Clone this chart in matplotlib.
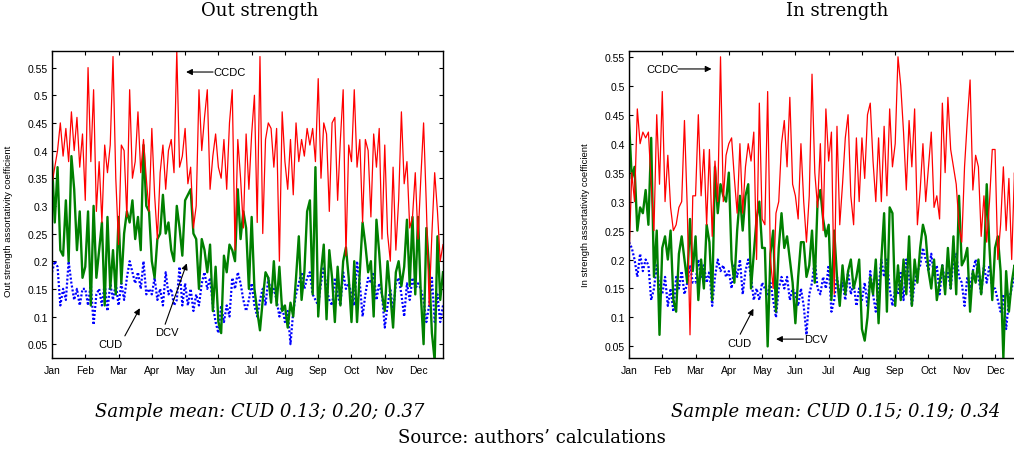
import numpy as np
import matplotlib
matplotlib.use('Agg')
import matplotlib.pyplot as plt
from matplotlib.ticker import FuncFormatter

plt.rcParams['font.family'] = ['Liberation Sans', 'DejaVu Sans']

months = ['Jan', 'Feb', 'Mar', 'Apr', 'May', 'Jun',
          'Jul', 'Aug', 'Sep', 'Oct', 'Nov', 'Dec']
ytick_vals = [0.05, 0.1, 0.15, 0.2, 0.25, 0.3, 0.35, 0.4, 0.45, 0.5, 0.55]

# 12 samples per month (Dec partial)
# ---- Out strength ----
out_ccdc = [
    0.34, 0.37, 0.40, 0.45, 0.39, 0.44, 0.38, 0.47, 0.40, 0.46, 0.37, 0.43,  # Jan
    0.31, 0.55, 0.38, 0.51, 0.29, 0.38, 0.27, 0.41, 0.36, 0.41, 0.57, 0.35,  # Feb
    0.23, 0.41, 0.40, 0.28, 0.51, 0.35, 0.38, 0.47, 0.36, 0.42, 0.35, 0.29,  # Mar
    0.44, 0.32, 0.24, 0.36, 0.41, 0.33, 0.40, 0.42, 0.36, 0.58, 0.37, 0.39,  # Apr
    0.44, 0.34, 0.37, 0.26, 0.30, 0.51, 0.40, 0.46, 0.51, 0.33, 0.39, 0.43,  # May
    0.37, 0.35, 0.42, 0.33, 0.45, 0.51, 0.22, 0.42, 0.35, 0.26, 0.43, 0.33,  # Jun
    0.43, 0.50, 0.27, 0.57, 0.25, 0.42, 0.45, 0.44, 0.37, 0.44, 0.20, 0.47,  # Jul
    0.38, 0.33, 0.42, 0.32, 0.45, 0.38, 0.42, 0.39, 0.44, 0.41, 0.44, 0.38,  # Aug
    0.53, 0.35, 0.45, 0.43, 0.29, 0.45, 0.46, 0.31, 0.42, 0.51, 0.21, 0.41,  # Sep
    0.38, 0.51, 0.37, 0.42, 0.27, 0.42, 0.40, 0.28, 0.43, 0.37, 0.44, 0.24,  # Oct
    0.41, 0.25, 0.20, 0.37, 0.22, 0.31, 0.47, 0.34, 0.38, 0.26, 0.28, 0.36,  # Nov
    0.24, 0.35, 0.45, 0.30, 0.12, 0.25, 0.36, 0.29, 0.20, 0.23,              # Dec
]
out_dcv = [
    0.38, 0.27, 0.37, 0.22, 0.21, 0.31, 0.20, 0.39, 0.33, 0.22, 0.29, 0.17,
    0.19, 0.29, 0.12, 0.30, 0.17, 0.22, 0.27, 0.12, 0.28, 0.15, 0.22, 0.14,
    0.28, 0.16, 0.25, 0.29, 0.27, 0.31, 0.24, 0.28, 0.22, 0.41, 0.30, 0.29,
    0.20, 0.17, 0.24, 0.25, 0.32, 0.25, 0.27, 0.22, 0.20, 0.30, 0.26, 0.21,
    0.31, 0.32, 0.33, 0.25, 0.24, 0.15, 0.24, 0.22, 0.18, 0.23, 0.11, 0.19,
    0.09, 0.07, 0.21, 0.18, 0.23, 0.22, 0.20, 0.33, 0.24, 0.29, 0.26, 0.15,
    0.28, 0.15, 0.11, 0.075, 0.13, 0.18, 0.17, 0.125, 0.20, 0.12, 0.19, 0.11,
    0.12, 0.08, 0.125, 0.10, 0.17, 0.245, 0.13, 0.18, 0.29, 0.31, 0.14, 0.37,
    0.10, 0.18, 0.23, 0.095, 0.22, 0.17, 0.09, 0.19, 0.12, 0.20, 0.225, 0.17,
    0.09, 0.20, 0.09, 0.18, 0.27, 0.23, 0.18, 0.20, 0.10, 0.275, 0.215, 0.14,
    0.11, 0.20, 0.14, 0.08, 0.18, 0.20, 0.155, 0.19, 0.275, 0.155, 0.28, 0.14,
    0.28, 0.14, 0.05, 0.26, 0.185, 0.07, 0.02, 0.245, 0.13, 0.18,
]
out_cud = [
    0.18, 0.20, 0.19, 0.12, 0.15, 0.13, 0.20, 0.16, 0.13, 0.15, 0.12, 0.15,
    0.15, 0.12, 0.16, 0.085, 0.14, 0.15, 0.12, 0.16, 0.11, 0.16, 0.13, 0.16,
    0.12, 0.16, 0.13, 0.17, 0.20, 0.18, 0.16, 0.18, 0.15, 0.20, 0.14, 0.15,
    0.14, 0.17, 0.13, 0.15, 0.12, 0.18, 0.14, 0.15, 0.12, 0.13, 0.19, 0.12,
    0.16, 0.12, 0.15, 0.11, 0.14, 0.12, 0.16, 0.18, 0.15, 0.17, 0.12, 0.09,
    0.07, 0.12, 0.09, 0.12, 0.10, 0.17, 0.15, 0.18, 0.16, 0.13, 0.11, 0.13,
    0.16, 0.12, 0.10, 0.13, 0.15, 0.12, 0.17, 0.14, 0.15, 0.13, 0.10, 0.12,
    0.09, 0.11, 0.05, 0.11, 0.14, 0.16, 0.18, 0.15, 0.17, 0.18, 0.14, 0.13,
    0.12, 0.16, 0.19, 0.15, 0.13, 0.12, 0.17, 0.14, 0.12, 0.18, 0.15, 0.16,
    0.14, 0.12, 0.20, 0.16, 0.10, 0.14, 0.17, 0.16, 0.18, 0.13, 0.16, 0.14,
    0.08, 0.12, 0.15, 0.11, 0.16, 0.17, 0.14, 0.10, 0.16, 0.13, 0.17, 0.15,
    0.16, 0.15, 0.13, 0.09, 0.12, 0.17, 0.09, 0.14, 0.09, 0.12,
]

# ---- In strength ----
in_ccdc = [
    0.20, 0.35, 0.30, 0.46, 0.40, 0.42, 0.41, 0.42, 0.33, 0.25, 0.45, 0.33,
    0.49, 0.30, 0.38, 0.29, 0.25, 0.26, 0.29, 0.30, 0.44, 0.29, 0.07, 0.31,
    0.31, 0.45, 0.31, 0.39, 0.26, 0.39, 0.24, 0.37, 0.30, 0.55, 0.30, 0.38,
    0.40, 0.41, 0.34, 0.28, 0.40, 0.28, 0.36, 0.40, 0.37, 0.42, 0.20, 0.47,
    0.27, 0.26, 0.49, 0.20, 0.15, 0.28, 0.30, 0.40, 0.44, 0.36, 0.48, 0.33,
    0.31, 0.27, 0.40, 0.30, 0.23, 0.31, 0.52, 0.35, 0.29, 0.40, 0.25, 0.46,
    0.37, 0.42, 0.14, 0.43, 0.26, 0.33, 0.41, 0.45, 0.31, 0.26, 0.41, 0.30,
    0.41, 0.34, 0.45, 0.47, 0.37, 0.30, 0.41, 0.30, 0.43, 0.31, 0.46, 0.36,
    0.40, 0.55, 0.50, 0.42, 0.32, 0.44, 0.36, 0.46, 0.26, 0.32, 0.40, 0.30,
    0.36, 0.42, 0.29, 0.31, 0.27, 0.47, 0.35, 0.48, 0.39, 0.36, 0.33, 0.26,
    0.23, 0.36, 0.44, 0.51, 0.32, 0.38, 0.36, 0.24, 0.31, 0.23, 0.30, 0.39,
    0.39, 0.20, 0.26, 0.36, 0.25, 0.34, 0.20, 0.35, 0.18, 0.24,
]
in_dcv = [
    0.44, 0.34, 0.36, 0.25, 0.29, 0.28, 0.32, 0.26, 0.41, 0.17, 0.25, 0.07,
    0.22, 0.24, 0.20, 0.25, 0.13, 0.11, 0.21, 0.24, 0.20, 0.16, 0.27, 0.18,
    0.24, 0.13, 0.20, 0.15, 0.26, 0.23, 0.13, 0.36, 0.28, 0.33, 0.31, 0.30,
    0.35, 0.20, 0.16, 0.25, 0.31, 0.25, 0.31, 0.33, 0.15, 0.21, 0.27, 0.30,
    0.22, 0.22, 0.05, 0.21, 0.25, 0.11, 0.22, 0.28, 0.22, 0.24, 0.20, 0.16,
    0.09, 0.17, 0.23, 0.23, 0.17, 0.19, 0.25, 0.16, 0.30, 0.32, 0.27, 0.24,
    0.26, 0.13, 0.25, 0.17, 0.12, 0.19, 0.14, 0.18, 0.20, 0.15, 0.17, 0.20,
    0.08, 0.06, 0.10, 0.17, 0.14, 0.20, 0.09, 0.20, 0.28, 0.11, 0.29, 0.28,
    0.12, 0.19, 0.13, 0.20, 0.14, 0.24, 0.12, 0.20, 0.16, 0.22, 0.26, 0.24,
    0.18, 0.15, 0.20, 0.13, 0.16, 0.19, 0.14, 0.22, 0.15, 0.24, 0.14, 0.31,
    0.19, 0.20, 0.22, 0.11, 0.18, 0.16, 0.20, 0.14, 0.19, 0.33, 0.22, 0.13,
    0.22, 0.24, 0.18, 0.03, 0.18, 0.11, 0.16, 0.19, 0.14, 0.17,
]
in_cud = [
    0.23, 0.22, 0.20, 0.17, 0.21, 0.18, 0.20, 0.19, 0.13, 0.15, 0.19, 0.15,
    0.14, 0.17, 0.12, 0.15, 0.11, 0.17, 0.15, 0.18, 0.14, 0.16, 0.19, 0.16,
    0.16, 0.20, 0.17, 0.19, 0.16, 0.18, 0.12, 0.17, 0.20, 0.18, 0.19, 0.17,
    0.18, 0.15, 0.19, 0.17, 0.20, 0.14, 0.18, 0.20, 0.17, 0.13, 0.15, 0.13,
    0.16, 0.15, 0.14, 0.16, 0.13, 0.10, 0.15, 0.17, 0.15, 0.17, 0.13, 0.15,
    0.14, 0.12, 0.15, 0.12, 0.07, 0.14, 0.16, 0.20, 0.15, 0.14, 0.17, 0.15,
    0.19, 0.11, 0.13, 0.17, 0.14, 0.16, 0.13, 0.18, 0.14, 0.16, 0.12, 0.15,
    0.13, 0.16, 0.12, 0.18, 0.14, 0.11, 0.15, 0.20, 0.17, 0.20, 0.15, 0.12,
    0.15, 0.14, 0.18, 0.13, 0.20, 0.17, 0.12, 0.16, 0.18, 0.19, 0.22, 0.20,
    0.18, 0.21, 0.17, 0.19, 0.14, 0.19, 0.16, 0.18, 0.15, 0.20, 0.21, 0.17,
    0.16, 0.12, 0.17, 0.15, 0.18, 0.20, 0.17, 0.14, 0.19, 0.16, 0.19, 0.15,
    0.15, 0.13, 0.11, 0.14, 0.08, 0.13, 0.15, 0.17, 0.14, 0.15,
]

W, H = 1014, 456
fig = plt.figure(figsize=(W / 100, H / 100), dpi=100)


def px_rect(x0, y0, x1, y1):
    return [x0 / W, 1 - y1 / H, (x1 - x0) / W, (y1 - y0) / H]


def draw_panel(ax, cud, dcv, ccdc, ylim, ylabel):
    x = np.arange(len(ccdc)) / 12.0
    ax.plot(x, cud, color='b', ls=(0, (0.9, 0.9)), lw=1.6)
    ax.plot(x, dcv, color='#008000', lw=1.7)
    ax.plot(x, ccdc, color='r', lw=0.9)
    ax.set_xlim(0, 11.75)
    ax.set_ylim(*ylim)
    ax.set_xticks(range(12))
    ax.set_xticklabels(months)
    ax.set_yticks(ytick_vals)
    ax.yaxis.set_major_formatter(FuncFormatter(lambda v, p: '%g' % round(v, 2)))
    ax.tick_params(direction='in', top=True, right=True, length=3, width=0.8,
                   labelsize=7.5)
    ax.tick_params(axis='x', pad=5)
    ax.tick_params(axis='y', pad=3)
    for s in ax.spines.values():
        s.set_linewidth(1.0)
    ax.set_ylabel(ylabel, fontsize=6.8)


def arrow(ax, head, tail):
    ax.annotate('', xy=head, xytext=tail,
                arrowprops=dict(arrowstyle='-|>', color='k', lw=0.8,
                                mutation_scale=9, shrinkA=0, shrinkB=0))


# left panel: Out strength
ax1 = fig.add_axes(px_rect(52, 52, 443, 359))
draw_panel(ax1, out_cud, out_dcv, out_ccdc, (0.025, 0.58),
           'Out strength assortativity coefficient')
ax1.yaxis.set_label_coords(-0.101, 0.45)
arrow(ax1, (4.03, 0.542), (4.84, 0.542))
ax1.text(4.86, 0.542, 'CCDC', fontsize=8, va='center', ha='left')
arrow(ax1, (2.64, 0.115), (2.19, 0.065))
ax1.text(1.77, 0.05, 'CUD', fontsize=8, va='center', ha='center')
arrow(ax1, (4.05, 0.196), (3.40, 0.086))
ax1.text(3.44, 0.072, 'DCV', fontsize=8, va='center', ha='center')

# right panel: In strength (cropped at the right edge like the source image)
ax2 = fig.add_axes(px_rect(629, 52, 1020, 359))
draw_panel(ax2, in_cud, in_dcv, in_ccdc, (0.03, 0.56),
           'In strength assortativity coefficient')
ax2.yaxis.set_label_coords(-0.10, 0.47)
ax2.text(1.01, 0.529, 'CCDC', fontsize=8, va='center', ha='center')
arrow(ax2, (2.48, 0.529), (1.47, 0.529))
arrow(ax2, (3.74, 0.115), (3.34, 0.071))
ax2.text(3.31, 0.056, 'CUD', fontsize=8, va='center', ha='center')
arrow(ax2, (4.42, 0.0626), (5.24, 0.0626))
ax2.text(5.63, 0.0626, 'DCV', fontsize=8, va='center', ha='center')

serif = ['DejaVu Serif']
fig.text(260 / W, 1 - 11 / H, 'Out strength', ha='center', va='center',
         family=serif, fontsize=13)
fig.text(837 / W, 1 - 11 / H, 'In strength', ha='center', va='center',
         family=serif, fontsize=13)
fig.text(260 / W, 1 - 412 / H, 'Sample mean: CUD 0.13; 0.20; 0.37',
         ha='center', va='center', family=serif, style='italic', fontsize=13)
fig.text(836 / W, 1 - 412 / H, 'Sample mean: CUD 0.15; 0.19; 0.34',
         ha='center', va='center', family=serif, style='italic', fontsize=13)
fig.text(532 / W, 1 - 438 / H, 'Source: authors\u2019 calculations',
         ha='center', va='center', family=serif, fontsize=13)

fig.savefig('out.png', dpi=100)
